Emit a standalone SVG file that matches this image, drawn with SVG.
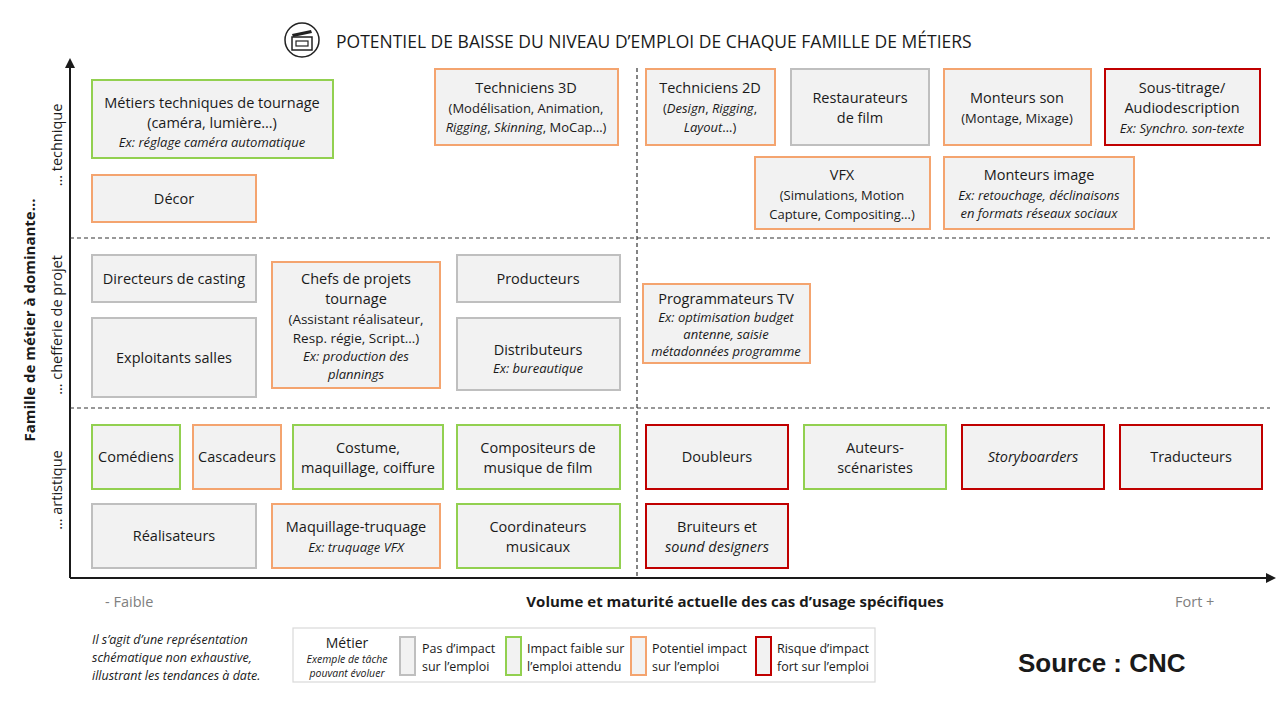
<svg xmlns="http://www.w3.org/2000/svg" width="1280" height="720" viewBox="0 0 1280 720">
<style>
text{font-family:"Open Sans","Liberation Sans",sans-serif;fill:#1a1a1a}
.n rect{stroke-width:2}
.t{font-size:14.5px;text-anchor:middle}
.e{font-size:13px;font-style:italic;text-anchor:middle}
.g rect{fill:#f2f2f2;stroke:#bfbfbf}
.v rect{fill:#f2f2f2;stroke:#92d050}
.o rect{fill:#f2f2f2;stroke:#f4a46f}
.r rect{fill:#f2f2f2;stroke:#c00000}
.d{stroke:#333;stroke-width:1.2;stroke-dasharray:4 3;fill:none}
</style>
<defs><marker id="ah" markerWidth="10" markerHeight="10" refX="8" refY="5" orient="auto" markerUnits="userSpaceOnUse"><path d="M0,0 L10,5 L0,10 z" fill="#1a1a1a"/></marker></defs>
<rect width="1280" height="720" fill="#fff"/>
<g id="title">
<circle cx="302" cy="40" r="17" fill="none" stroke="#222" stroke-width="1.5"/>
<rect x="292" y="37" width="20" height="13" fill="none" stroke="#222" stroke-width="1.5"/>
<rect x="296" y="41" width="12" height="5" fill="none" stroke="#222" stroke-width="1.2"/>
<path d="M292,34 L311,30 L312,33 L293,37z" fill="#222"/>
<text x="336" y="48" font-size="17.5">POTENTIEL DE BAISSE DU NIVEAU D’EMPLOI DE CHAQUE FAMILLE DE MÉTIERS</text>
</g>
<g id="connectors">
<line x1="70" y1="578" x2="70" y2="60" stroke="#1a1a1a" stroke-width="2" marker-end="url(#ah)"/>
<line x1="70" y1="578" x2="1274" y2="578" stroke="#1a1a1a" stroke-width="2" marker-end="url(#ah)"/>
<line class="d" x1="637" y1="68" x2="637" y2="578"/>
<line class="d" x1="70" y1="238" x2="1270" y2="238"/>
<line class="d" x1="70" y1="408" x2="1270" y2="408"/>
</g>
<g id="axes">
<text x="105" y="607" font-size="14.5" fill="#808080" style="fill:#808080">- Faible</text>
<text x="735" y="607" font-size="15" font-weight="bold" text-anchor="middle">Volume et maturité actuelle des cas d’usage spécifiques</text>
<text x="1175" y="607" font-size="14.5" style="fill:#808080">Fort +</text>
<text transform="translate(35,320) rotate(-90)" font-size="15" font-weight="bold" text-anchor="middle">Famille de métier à dominante…</text>
<text transform="translate(62,145) rotate(-90)" font-size="14.5" text-anchor="middle">… technique</text>
<text transform="translate(62,325) rotate(-90)" font-size="14.5" text-anchor="middle">… chefferie de projet</text>
<text transform="translate(62,490) rotate(-90)" font-size="14.5" text-anchor="middle">… artistique</text>
</g>
<g id="n1" class="n v"><rect x="92" y="80" width="241" height="78"/><text class="t" x="212" y="108">Métiers techniques de tournage</text><text class="t" x="212" y="128">(caméra, lumière…)</text><text class="e" x="212" y="147">Ex: réglage caméra automatique</text></g>
<g id="n2" class="n o"><rect x="92" y="175" width="164" height="47"/><text class="t" x="174" y="204">Décor</text></g>
<g id="n3" class="n o"><rect x="435" y="69" width="183" height="76"/><text class="t" x="526" y="93">Techniciens 3D</text><text x="526" y="113" class="t" font-size="13" style="font-size:13px">(Modélisation, Animation,</text><text x="526" y="132" class="t" style="font-size:13px"><tspan font-style="italic">Rigging</tspan>, <tspan font-style="italic">Skinning</tspan>, MoCap…)</text></g>
<g id="n4" class="n o"><rect x="646" y="69" width="129" height="76"/><text class="t" x="710" y="93">Techniciens 2D</text><text class="t" x="710" y="113" style="font-size:13px">(<tspan font-style="italic">Design</tspan>, <tspan font-style="italic">Rigging</tspan>,</text><text class="t" x="710" y="132" style="font-size:13px"><tspan font-style="italic">Layout</tspan>…)</text></g>
<g id="n5" class="n g"><rect x="791" y="69" width="138" height="76"/><text class="t" x="860" y="103">Restaurateurs</text><text class="t" x="860" y="123">de film</text></g>
<g id="n6" class="n o"><rect x="944" y="69" width="147" height="76"/><text class="t" x="1017" y="103">Monteurs son</text><text class="t" x="1017" y="123" style="font-size:13px">(Montage, Mixage)</text></g>
<g id="n7" class="n r"><rect x="1105" y="69" width="155" height="76"/><text class="t" x="1182" y="93">Sous-titrage/</text><text class="t" x="1182" y="113">Audiodescription</text><text class="e" x="1182" y="133">Ex: Synchro. son-texte</text></g>
<g id="n8" class="n o"><rect x="755" y="157" width="175" height="72"/><text class="t" x="842" y="180">VFX</text><text class="t" x="842" y="200" style="font-size:13px">(Simulations, Motion</text><text class="t" x="842" y="219" style="font-size:13px">Capture, Compositing…)</text></g>
<g id="n9" class="n o"><rect x="944" y="157" width="190" height="72"/><text class="t" x="1039" y="180">Monteurs image</text><text class="e" x="1039" y="200">Ex: retouchage, déclinaisons</text><text class="e" x="1039" y="218">en formats réseaux sociaux</text></g>
<g id="n10" class="n g"><rect x="92" y="255" width="164" height="47"/><text class="t" x="174" y="284">Directeurs de casting</text></g>
<g id="n11" class="n g"><rect x="92" y="318" width="164" height="79"/><text class="t" x="174" y="363">Exploitants salles</text></g>
<g id="n12" class="n o"><rect x="272" y="262" width="168" height="126"/><text class="t" x="356" y="284">Chefs de projets</text><text class="t" x="356" y="304">tournage</text><text class="t" x="356" y="324" style="font-size:13.5px">(Assistant réalisateur,</text><text class="t" x="356" y="343" style="font-size:13.5px">Resp. régie, Script…)</text><text class="e" x="356" y="361">Ex: production des</text><text class="e" x="356" y="379">plannings</text></g>
<g id="n13" class="n g"><rect x="457" y="255" width="163" height="47"/><text class="t" x="538" y="284">Producteurs</text></g>
<g id="n14" class="n g"><rect x="457" y="318" width="163" height="72"/><text class="t" x="538" y="355">Distributeurs</text><text class="e" x="538" y="373">Ex: bureautique</text></g>
<g id="n15" class="n o"><rect x="643" y="284" width="167" height="79"/><text class="t" x="726" y="304">Programmateurs TV</text><text class="e" x="726" y="322">Ex: optimisation budget</text><text class="e" x="726" y="339">antenne, saisie</text><text class="e" x="726" y="356">métadonnées programme</text></g>
<g id="n16" class="n v"><rect x="92" y="425" width="88" height="64"/><text class="t" x="136" y="462">Comédiens</text></g>
<g id="n17" class="n o"><rect x="193" y="425" width="88" height="64"/><text class="t" x="237" y="462">Cascadeurs</text></g>
<g id="n18" class="n v"><rect x="293" y="425" width="150" height="64"/><text class="t" x="368" y="453">Costume,</text><text class="t" x="368" y="473">maquillage, coiffure</text></g>
<g id="n19" class="n v"><rect x="457" y="425" width="163" height="64"/><text class="t" x="538" y="453">Compositeurs de</text><text class="t" x="538" y="473">musique de film</text></g>
<g id="n20" class="n r"><rect x="646" y="425" width="142" height="64"/><text class="t" x="717" y="462">Doubleurs</text></g>
<g id="n21" class="n v"><rect x="804" y="425" width="142" height="64"/><text class="t" x="875" y="453">Auteurs-</text><text class="t" x="875" y="473">scénaristes</text></g>
<g id="n22" class="n r"><rect x="962" y="425" width="142" height="64"/><text class="t" x="1033" y="462" font-style="italic">Storyboarders</text></g>
<g id="n23" class="n r"><rect x="1120" y="425" width="142" height="64"/><text class="t" x="1191" y="462">Traducteurs</text></g>
<g id="n24" class="n g"><rect x="92" y="504" width="164" height="64"/><text class="t" x="174" y="541">Réalisateurs</text></g>
<g id="n25" class="n o"><rect x="272" y="504" width="168" height="64"/><text class="t" x="356" y="532">Maquillage-truquage</text><text class="e" x="356" y="552">Ex: truquage VFX</text></g>
<g id="n26" class="n v"><rect x="457" y="504" width="163" height="64"/><text class="t" x="538" y="532">Coordinateurs</text><text class="t" x="538" y="552">musicaux</text></g>
<g id="n27" class="n r"><rect x="646" y="504" width="142" height="64"/><text class="t" x="717" y="532">Bruiteurs et</text><text class="t" x="717" y="552" font-style="italic">sound designers</text></g>
<g id="note" font-size="12.5" font-style="italic">
<text x="92" y="644" font-size="12.5" font-style="italic">Il s’agit d’une représentation</text>
<text x="92" y="662" font-size="12.5" font-style="italic">schématique non exhaustive,</text>
<text x="92" y="680" font-size="12.5" font-style="italic">illustrant les tendances à date.</text>
</g>
<g id="legend">
<rect x="293" y="628" width="582" height="54" fill="#fff" stroke="#d9d9d9" stroke-width="1.2"/>
<text x="347" y="648" font-size="14" text-anchor="middle">Métier</text>
<text x="347" y="663" font-size="10.5" font-style="italic" text-anchor="middle">Exemple de tâche</text>
<text x="347" y="677" font-size="10.5" font-style="italic" text-anchor="middle">pouvant évoluer</text>
<rect x="400" y="637" width="15" height="38" fill="#f2f2f2" stroke="#bfbfbf" stroke-width="2"/>
<text x="422" y="653" font-size="12.5">Pas d’impact</text><text x="422" y="671" font-size="12.5">sur l’emploi</text>
<rect x="506" y="637" width="15" height="38" fill="#f2f2f2" stroke="#92d050" stroke-width="2"/>
<text x="527" y="653" font-size="12.5">Impact faible sur</text><text x="527" y="671" font-size="12.5">l’emploi attendu</text>
<rect x="631" y="637" width="15" height="38" fill="#f2f2f2" stroke="#f4a46f" stroke-width="2"/>
<text x="652" y="653" font-size="12.5">Potentiel impact</text><text x="652" y="671" font-size="12.5">sur l’emploi</text>
<rect x="756" y="637" width="15" height="38" fill="#f2f2f2" stroke="#c00000" stroke-width="2"/>
<text x="777" y="653" font-size="12.5">Risque d’impact</text><text x="777" y="671" font-size="12.5">fort sur l’emploi</text>
</g>
<text x="1018" y="672" font-family="Liberation Sans" font-size="26" font-weight="bold" style="font-family:'Liberation Sans',Arial,sans-serif">Source : CNC</text>
</svg>
